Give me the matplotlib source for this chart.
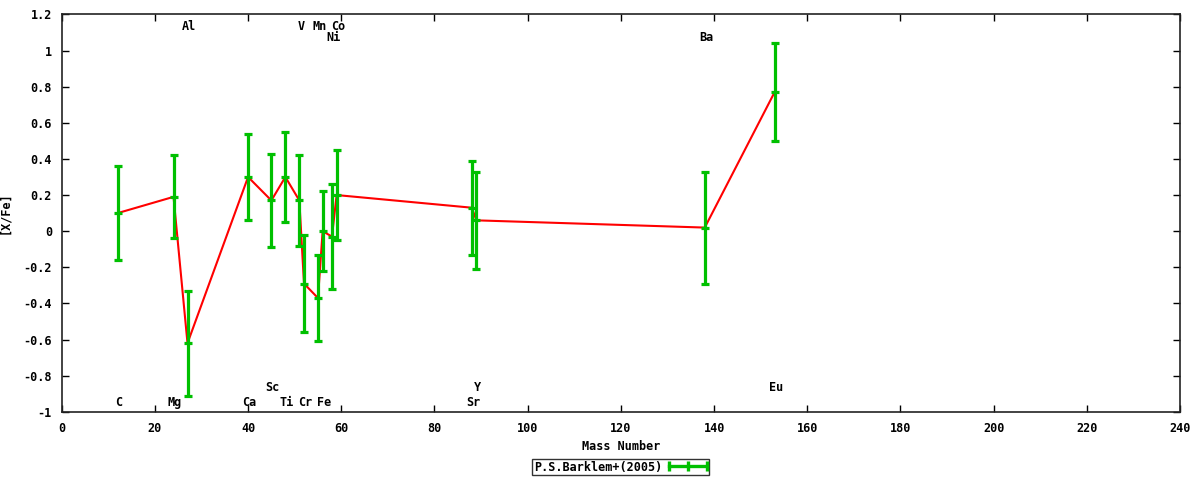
import matplotlib
matplotlib.use("Agg")
import matplotlib.pyplot as plt
from matplotlib.legend_handler import HandlerBase
from matplotlib.lines import Line2D
from matplotlib.ticker import FuncFormatter, MultipleLocator

# Barklem et al. (2005) abundances, [X/Fe] vs mass number
elements = ["C", "Mg", "Al", "Ca", "Sc", "Ti", "V", "Cr", "Mn", "Fe",
            "Ni", "Co", "Sr", "Y", "Ba", "Eu"]
mass = [12, 24, 27, 40, 45, 48, 51, 52, 55, 56, 58, 59, 88, 89, 138, 153]
x_fe = [0.10, 0.19, -0.62, 0.30, 0.17, 0.30, 0.17, -0.29, -0.37, 0.00,
        -0.03, 0.20, 0.13, 0.06, 0.02, 0.77]
err = [0.26, 0.23, 0.29, 0.24, 0.26, 0.25, 0.25, 0.27, 0.24, 0.22,
       0.29, 0.25, 0.26, 0.27, 0.31, 0.27]

# label rows (gnuplot-style element tags along top and bottom)
label_row = {"C": -0.95, "Mg": -0.95, "Al": 1.135, "Ca": -0.95, "Sc": -0.865,
             "Ti": -0.95, "V": 1.135, "Cr": -0.95, "Mn": 1.135, "Fe": -0.95,
             "Ni": 1.07, "Co": 1.135, "Sr": -0.95, "Y": -0.865, "Ba": 1.07,
             "Eu": -0.865}

GREEN = "#00c000"
RED = "#ff0000"
FONT = {"family": "DejaVu Sans Mono", "weight": "bold", "size": 8.5}


class ErrKeyHandler(HandlerBase):
    def create_artists(self, legend, orig_handle, xdescent, ydescent,
                       width, height, fontsize, trans):
        y = height / 2 - ydescent
        x0, x1 = -xdescent, width - xdescent
        bar = Line2D([x0, x1], [y, y], color=GREEN, lw=2.4, transform=trans)
        ends = Line2D([x0, (x0 + x1) / 2, x1], [y, y, y], ls="none", marker="|",
                      ms=7, mew=2.4, color=GREEN, transform=trans)
        return [bar, ends]


fig = plt.figure(figsize=(12, 4.8), dpi=100)
ax = fig.add_axes([0.0514, 0.142, 0.932, 0.828])

ax.plot(mass, x_fe, color=RED, lw=1.5, zorder=2)
ax.errorbar(mass, x_fe, yerr=err, fmt="none", ecolor=GREEN, elinewidth=2.3,
            capsize=3, capthick=2.3, zorder=3)
ax.plot(mass, x_fe, ls="none", marker="_", ms=6, mew=2.3, color=GREEN, zorder=3)

for el, m in zip(elements, mass):
    ax.text(m + 0.3, label_row[el], el, ha="center", va="center", **FONT)

ax.set_xlim(0, 240)
ax.set_ylim(-1, 1.2)
ax.xaxis.set_major_locator(MultipleLocator(20))
ax.yaxis.set_major_locator(MultipleLocator(0.2))
fmt = FuncFormatter(lambda v, p: "%g" % round(v, 3) if abs(v) > 1e-9 else "0")
ax.xaxis.set_major_formatter(fmt)
ax.yaxis.set_major_formatter(fmt)
ax.tick_params(direction="in", length=5, width=1, top=True, right=True,
               pad=7, labelsize=8.5)
for lab in ax.get_xticklabels() + ax.get_yticklabels():
    lab.set_fontfamily("DejaVu Sans Mono")
    lab.set_fontweight("bold")
for sp in ax.spines.values():
    sp.set_linewidth(1.2)
    sp.set_color("#222222")

ax.set_xlabel("Mass Number", labelpad=4, **FONT)
ax.set_ylabel("[X/Fe]", **FONT)
ax.yaxis.set_label_coords(-0.045, 0.5)

handle = Line2D([], [])
leg = fig.legend([handle], ["P.S.Barklem+(2005)"], loc="center",
                 bbox_to_anchor=(0.517, 0.027), markerfirst=False,
                 handler_map={Line2D: ErrKeyHandler()}, handlelength=3.2,
                 handletextpad=0.6, borderpad=0.15, borderaxespad=0,
                 fancybox=False, edgecolor="black",
                 prop={"family": "DejaVu Sans Mono", "weight": "bold", "size": 8.5})
leg.get_frame().set_linewidth(1.0)

fig.savefig("out.png", dpi=100)
